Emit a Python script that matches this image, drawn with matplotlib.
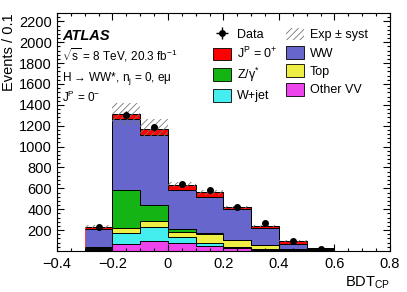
"""ATLAS-style stacked BDT_CP distribution, J^P = 0^- hypothesis."""

import matplotlib
matplotlib.use("Agg")
import matplotlib.pyplot as plt
import numpy as np
from matplotlib.patches import Patch

plt.rcParams["font.family"] = ["Liberation Sans", "DejaVu Sans"]
plt.rcParams["mathtext.fontset"] = "custom"
plt.rcParams["mathtext.rm"] = "Liberation Sans"
plt.rcParams["mathtext.it"] = "Liberation Sans:italic"
plt.rcParams["mathtext.default"] = "regular"
plt.rcParams["hatch.linewidth"] = 0.6

# bins of width 0.1 starting at -0.3
bin_lo = -0.3
bin_w = 0.1
other_vv = [12, 68, 96, 74, 48, 24, 12, 4, 1]
wjet = [10, 102, 132, 64, 26, 18, 8, 3, 1]
top = [10, 48, 64, 48, 86, 60, 34, 8, 2]
zgamma = [8, 368, 150, 22, 8, 6, 5, 3, 1]
ww = [169, 680, 673, 378, 354, 293, 165, 46, 11]
signal = [25, 48, 58, 49, 39, 19, 16, 35, 13]
data = [234, 1305, 1186, 644, 580, 426, 266, 93, 22]
syst = [12, 106, 87, 25, 22, 15, 12, 8, 4]

layers = [
    (other_vv, "#EE44EE", "Other VV"),
    (wjet, "#44EEEE", "W+jet"),
    (top, "#EEEE44", "Top"),
    (zgamma, "#14B414", "Z/γ$^{*}$"),
    (ww, "#6666CC", "WW"),
    (signal, "#FF0000", "J$^{P}$ = 0$^{+}$"),
]

nb = len(data)
edges = bin_lo + bin_w * np.arange(nb + 1)
centers = edges[:-1] + bin_w / 2

fig = plt.figure(figsize=(4.07, 2.92), dpi=100)
ax = fig.add_axes([0.140, 0.1404, 0.818, 0.8151])

# filled layers, then the red total outline, then black edges on top
base = np.zeros(nb)
for vals, col, lab in layers:
    vals = np.asarray(vals, float)
    ax.stairs(base + vals, edges, baseline=base, fill=True, color=col, lw=0,
              zorder=1)
    base = base + vals
total = base
full_edges = np.concatenate([[-0.4], edges, [0.7, 0.8]])
full_total = np.concatenate([[0], total, [0, 0]])
ax.stairs(full_total, full_edges, baseline=0, color="#FF4040", lw=0.7,
          zorder=1.5)

base = np.zeros(nb)
for vals, col, lab in layers:
    base = base + np.asarray(vals, float)
    ax.stairs(base, edges, baseline=None, color="k", lw=0.7, zorder=2)

# systematic band
syst = np.asarray(syst, float)
ax.bar(edges[:-1], 2 * syst, bottom=total - syst, width=bin_w, align="edge",
       fill=False, hatch="/////", edgecolor="#777777", lw=0, zorder=4)

ax.errorbar(centers, data, yerr=np.sqrt(data), fmt="o", color="k", ms=4,
            elinewidth=1, capsize=0, zorder=5)

ax.set_xlim(-0.4, 0.8)
ax.set_ylim(0, 2280)
ax.set_xticks(np.arange(-0.4, 0.81, 0.2))
ax.set_xticklabels(["\u22120.4", "\u22120.2", "0", "0.2", "0.4", "0.6", "0.8"])
ax.set_xticks(np.arange(-0.4, 0.81, 0.05), minor=True)
ax.set_yticks(np.arange(200, 2201, 200))
ax.set_yticks(np.arange(0, 2281, 40), minor=True)
ax.tick_params(which="both", direction="in", top=True, right=True,
               labelsize=10.5, width=0.8)
ax.tick_params(which="major", length=5)
ax.tick_params(which="minor", length=2.5)
ax.tick_params(axis="x", pad=4)
for s in ax.spines.values():
    s.set_linewidth(0.8)

ax.set_ylabel("Events / 0.1", loc="top", fontsize=10.5, labelpad=2)
ax.set_xlabel("BDT$_{CP}$", loc="right", fontsize=10.5, labelpad=3)

ax.text(0.015, 0.885, "ATLAS", transform=ax.transAxes, fontsize=10.5,
        fontweight="bold", fontstyle="italic")
ax.text(0.015, 0.80, r"$\sqrt{s}$ = 8 TeV, 20.3 fb$^{-1}$",
        transform=ax.transAxes, fontsize=8.5)
ax.text(0.015, 0.715, "H \u2192 WW*, n$_{j}$ = 0, e\u03bc",
        transform=ax.transAxes, fontsize=8.5)
ax.text(0.015, 0.625, "J$^{P}$ = 0$^{\u2212}$",
        transform=ax.transAxes, fontsize=8.5)

data_h = ax.errorbar([np.nan], [np.nan], xerr=[1], yerr=[1], fmt="o",
                     color="k", ms=4, elinewidth=1, capsize=0)
band_h = Patch(facecolor="none", edgecolor="#777777", hatch="/////", lw=0)
cols = {lab: col for _, col, lab in layers}
mk = lambda lab: Patch(facecolor=cols[lab], edgecolor="k", lw=0.6)
handles = [data_h, mk("J$^{P}$ = 0$^{+}$"), mk("Z/γ$^{*}$"), mk("W+jet"),
           band_h, mk("WW"), mk("Top"), mk("Other VV")]
labels = ["Data", "J$^{P}$ = 0$^{+}$", "Z/γ$^{*}$", "W+jet",
          "Exp \u00b1 syst", "WW", "Top", "Other VV"]
ax.legend(handles, labels, ncol=2, loc="upper left",
          bbox_to_anchor=(0.45, 0.965), frameon=False, fontsize=9,
          handlelength=1.4, handleheight=1.2, handletextpad=0.5,
          columnspacing=0.7, labelspacing=0.38, borderpad=0)

fig.savefig("out.png", dpi=100)
plt.close(fig)
